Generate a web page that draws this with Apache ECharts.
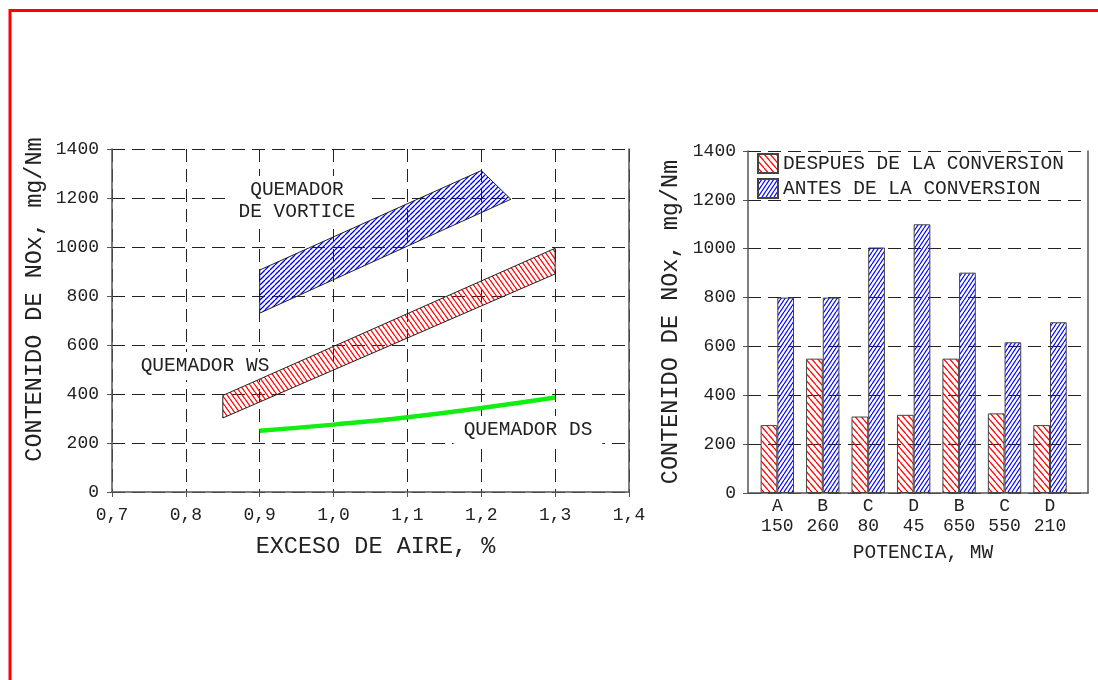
<!DOCTYPE html>
<html><head><meta charset="utf-8">
<script src="https://cdn.jsdelivr.net/npm/echarts@6/dist/echarts.min.js"></script>
<style>html,body{margin:0;padding:0;background:#fff}#c{width:1098px;height:680px}</style>
</head><body><div id="c"></div><script>
// ---- data ----
const vortexBand = [[0.9,730],[0.9,906],[1.2,1312],[1.24,1195]];
const wsBand = [[0.85,302],[0.85,394],[1.3,995],[1.3,890]];
const dsLine = [[0.9,250],[1.0,275],[1.1,305],[1.2,343],[1.3,386]];
const plantas = ['A','B','C','D','B','C','D'];
const potencias = ['150','260','80','45','650','550','210'];
const despues = [278,550,313,320,550,326,278];
const antes = [800,800,1005,1100,902,617,699];
const seriesNames = ['DESPUES DE LA CONVERSION','ANTES DE LA CONVERSION'];
const yTitle = 'CONTENIDO DE NOx, mg/Nm';

const FONT = '"Liberation Mono", "DejaVu Sans Mono", monospace';
const TXT = '#222';
const GRIDC = '#222';
const AXC = '#555';

function hatch(color, dir, w, h, lw){
  const c = document.createElement('canvas');
  c.width = w; c.height = h;
  const ctx = c.getContext('2d');
  ctx.strokeStyle = color; ctx.lineWidth = lw;
  for (const off of [-w, 0, w]) {
    ctx.beginPath();
    if (dir === '/') { ctx.moveTo(off, h); ctx.lineTo(off + w, 0); }
    else { ctx.moveTo(off, 0); ctx.lineTo(off + w, h); }
    ctx.stroke();
  }
  return { image: c, repeat: 'repeat' };
}
const patBlueBand = hatch('#0000ff', '/', 5, 5, 1.3);
const patRedBand = hatch('#ff0000', '\\', 5, 7, 1.3);
const patRedBar = hatch('#ff0000', '\\', 6, 7, 1.3);
const patBlueBar = hatch('#0000ff', '/', 4, 6, 1.2);

function bandRenderer(band, pat){
  return function(params, api){
    if (params.dataIndex !== 0) return null;
    return {
      type: 'polygon',
      shape: { points: band.map(p => api.coord(p)) },
      style: { fill: pat, stroke: '#222', lineWidth: 1 }
    };
  };
}
function note(text, x, y){
  return { type: 'text', x: x, y: y, z: 1,
    style: { text: text, fontFamily: FONT, fontSize: 19.5, lineHeight: 22, fill: TXT,
      align: 'center', verticalAlign: 'middle', backgroundColor: '#fff', padding: [3, 10] } };
}

const dash = { type: [13, 7], color: GRIDC, width: 1 };
const chart = echarts.init(document.getElementById('c'), null, { renderer: 'canvas' });
const option = {
  animation: false,
  backgroundColor: '#fff',
  textStyle: { fontFamily: FONT, color: TXT },
  grid: [
    { left: 112, top: 149, width: 517, height: 343 },
    { left: 748, top: 151, width: 340, height: 342 }
  ],
  legend: {
    data: seriesNames,
    orient: 'vertical', left: 757, top: 153, padding: 0,
    itemWidth: 20, itemHeight: 19, itemGap: 4, icon: 'rect',
    textStyle: { fontFamily: FONT, fontSize: 19.5, color: TXT }
  },
  xAxis: [
    {
      gridIndex: 0, type: 'value', min: 0.7, max: 1.4, interval: 0.1,
      axisLine: { onZero: false, lineStyle: { color: AXC, width: 1.5 } },
      axisTick: { show: true, length: 5, lineStyle: { color: AXC } },
      axisLabel: { fontFamily: FONT, fontSize: 18, color: TXT, margin: 14,
        formatter: v => v.toFixed(1).replace('.', ',') },
      splitLine: { show: true, lineStyle: dash },
      name: 'EXCESO DE AIRE, %', nameLocation: 'middle', nameGap: 43,
      nameTextStyle: { fontFamily: FONT, fontSize: 23.5, color: TXT, padding: [0, 0, 0, 10] }
    },
    {
      gridIndex: 1, type: 'value', min: -0.645, max: 6.836,
      axisLine: { onZero: false, lineStyle: { color: AXC, width: 1.5 } },
      axisTick: { show: false },
      splitLine: { show: false },
      axisLabel: { customValues: plantas.map((_, i) => i), fontFamily: FONT, fontSize: 18,
        lineHeight: 20, color: TXT, margin: 3,
        formatter: v => { const i = Math.round(v); return plantas[i] + '\n' + potencias[i]; } },
      name: 'POTENCIA, MW', nameLocation: 'middle', nameGap: 50,
      nameTextStyle: { fontFamily: FONT, fontSize: 19.5, color: TXT, padding: [0, 0, 0, 10] }
    }
  ],
  yAxis: [
    {
      gridIndex: 0, type: 'value', min: 0, max: 1400, interval: 200,
      axisLine: { show: true, onZero: false, lineStyle: { color: AXC, width: 1.5 } },
      axisTick: { show: true, length: 5, lineStyle: { color: AXC } },
      axisLabel: { fontFamily: FONT, fontSize: 18, color: TXT, margin: 13, formatter: v => String(v) },
      splitLine: { show: true, lineStyle: dash },
      name: yTitle, nameLocation: 'middle', nameGap: 65,
      nameTextStyle: { fontFamily: FONT, fontSize: 23.5, color: TXT, padding: [0, 0, 0, 42] }
    },
    {
      gridIndex: 0, type: 'value', min: 0, max: 1400, position: 'right',
      axisLine: { show: true, onZero: false, lineStyle: { color: AXC, width: 1.5 } },
      axisTick: { show: false }, axisLabel: { show: false }, splitLine: { show: false }
    },
    {
      gridIndex: 1, type: 'value', min: 0, max: 1400, interval: 200,
      axisLine: { show: true, onZero: false, lineStyle: { color: AXC, width: 1.5 } },
      axisTick: { show: true, length: 5, lineStyle: { color: AXC } },
      axisLabel: { fontFamily: FONT, fontSize: 18, color: TXT, margin: 12, formatter: v => String(v) },
      splitLine: { show: true, lineStyle: dash },
      name: yTitle, nameLocation: 'middle', nameGap: 65,
      nameTextStyle: { fontFamily: FONT, fontSize: 23.5, color: TXT }
    },
    {
      gridIndex: 1, type: 'value', min: 0, max: 1400, position: 'right',
      axisLine: { show: true, onZero: false, lineStyle: { color: AXC, width: 1.5 } },
      axisTick: { show: false }, axisLabel: { show: false }, splitLine: { show: false }
    }
  ],
  series: [
    { type: 'custom', name: 'QUEMADOR DE VORTICE', xAxisIndex: 0, yAxisIndex: 0,
      data: vortexBand, renderItem: bandRenderer(vortexBand, patBlueBand), z: 3 },
    { type: 'custom', name: 'QUEMADOR WS', xAxisIndex: 0, yAxisIndex: 0,
      data: wsBand, renderItem: bandRenderer(wsBand, patRedBand), z: 3 },
    { type: 'line', name: 'QUEMADOR DS', xAxisIndex: 0, yAxisIndex: 0, data: dsLine,
      smooth: true, symbol: 'none', lineStyle: { color: '#11ee11', width: 4.5 }, z: 4 },
    { type: 'bar', name: seriesNames[0], xAxisIndex: 1, yAxisIndex: 2,
      data: despues.map((v, i) => [i, v]), barWidth: 16.7, barGap: '0%',
      itemStyle: { color: patRedBar, borderColor: '#444', borderWidth: 1 } },
    { type: 'bar', name: seriesNames[1], xAxisIndex: 1, yAxisIndex: 2,
      data: antes.map((v, i) => [i, v]), barWidth: 16.7, barGap: '0%',
      itemStyle: { color: patBlueBar, borderColor: '#444', borderWidth: 1 } }
  ],
  graphic: [
    { type: 'rect', shape: { x: 9, y: 9, width: 1089, height: 3 }, style: { fill: '#ff0000' } },
    { type: 'rect', shape: { x: 8.5, y: 9, width: 3, height: 671 }, style: { fill: '#ff0000' } },
    note('QUEMADOR\nDE VORTICE', 297, 201),
    note('QUEMADOR WS', 205, 366),
    note('QUEMADOR DS', 528, 430)
  ]
};
chart.setOption(option);
</script></body></html>
